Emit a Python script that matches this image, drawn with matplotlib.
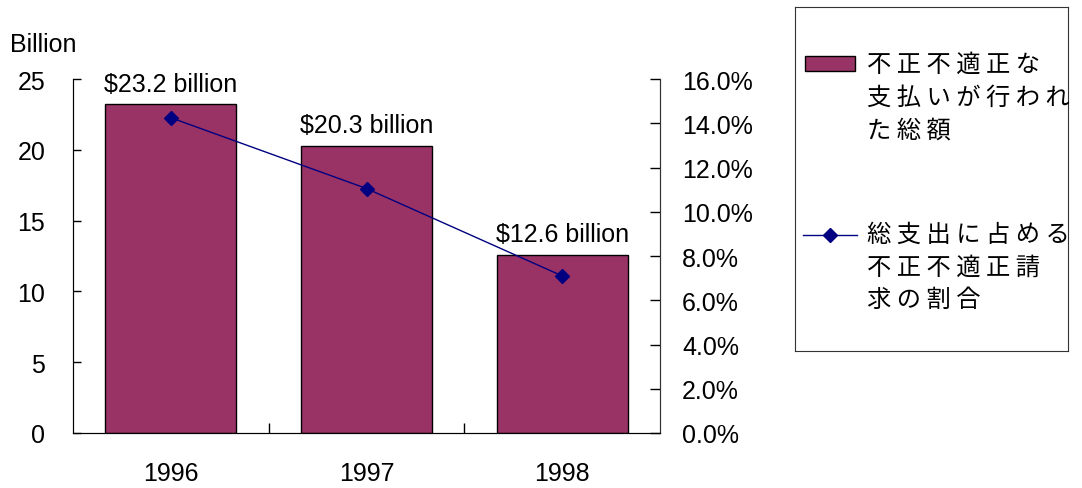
import matplotlib
matplotlib.use('Agg')
import matplotlib.pyplot as plt
from matplotlib.patches import Rectangle
from matplotlib.lines import Line2D
from matplotlib.ticker import FuncFormatter

years = ['1996', '1997', '1998']
amounts = [23.2, 20.3, 12.6]          # billion dollars
amount_labels = ['$23.2 billion', '$20.3 billion', '$12.6 billion']
share = [14.25, 11.05, 7.1]           # percent of total spending
bar_label = '不 正 不 適 正 な\n支 払 い が 行 わ れ\nた 総 額'
line_label = '総 支 出 に 占 め る\n不 正 不 適 正 請\n求 の 割 合'

plum = '#993366'
navy = '#000080'
latin = 'Liberation Sans'
jp = ['Noto Sans CJK JP', 'DejaVu Sans']
fs = 18

fig = plt.figure(figsize=(10.82, 4.89), dpi=100)
W, H = 1082, 489
ax = fig.add_axes([73 / W, 1 - 434 / H, (660 - 73) / W, (434 - 80) / H])

x = range(len(years))
ax.bar(x, amounts, width=0.67, color=plum, edgecolor='black', linewidth=1, zorder=2)
for xi, v, lab in zip(x, amounts, amount_labels):
    ax.annotate(lab, (xi, v), xytext=(0, 6), textcoords='offset points',
                ha='center', va='bottom', fontsize=fs, family=latin)

ax.set_xlim(-0.5, len(years) - 0.5)
ax.set_ylim(0, 25)
ax.set_yticks([0, 5, 10, 15, 20, 25])
ax.set_xticks([0.5, 1.5])
ax.set_xticklabels([])
ax.set_xticks(list(x), minor=True)
ax.set_xticklabels(years, minor=True)
ax.tick_params(axis='x', which='major', direction='in', length=7, width=1)
ax.tick_params(axis='x', which='minor', length=0, pad=20, labelsize=fs)
ax.tick_params(axis='y', direction='in', length=6, width=1, pad=20, labelsize=fs)
for t in ax.get_xticklabels(minor=True) + ax.get_yticklabels():
    t.set_family(latin)
ax.spines['top'].set_visible(False)
for s in ['left', 'bottom', 'right']:
    ax.spines[s].set_color('#333333')

ax2 = ax.twinx()
ax2.plot(list(x), share, color=navy, linewidth=1, marker='D', markersize=7,
         markerfacecolor=navy, markeredgecolor=navy, zorder=3)
ax2.set_ylim(0, 16)
ax2.set_yticks([0, 2, 4, 6, 8, 10, 12, 14, 16])
ax2.yaxis.set_major_formatter(FuncFormatter(lambda v, p: f'{v:.1f}%'))
ax2.tick_params(axis='y', direction='in', length=7, width=1, pad=16, labelsize=fs)
for t in ax2.get_yticklabels():
    t.set_family(latin)
ax2.spines['top'].set_visible(False)
ax2.spines['right'].set_color('#333333')

fig.text(10 / W, 1 - 45 / H, 'Billion', fontsize=fs, family=latin, va='center', ha='left')

# legend box drawn by hand
lg = fig.add_axes([795 / W, 1 - 352 / H, (1068 - 795) / W, (352 - 8) / H])
lg.set_xlim(795, 1068)
lg.set_ylim(352, 8)
lg.set_xticks([])
lg.set_yticks([])
lg.set_zorder(-1)
for s in lg.spines.values():
    s.set_color('#333333')
lg.add_patch(Rectangle((805, 57), 50, 15, facecolor=plum, edgecolor='black', linewidth=1))
lg.add_line(Line2D([803, 857], [236, 236], color=navy, linewidth=1))
lg.add_line(Line2D([830], [236], color=navy, marker='D', markersize=7))
lg.text(867, 52, bar_label, family=jp, fontsize=17.5, va='top', ha='left',
        linespacing=1.33, clip_on=False)
lg.text(867, 222, line_label, family=jp, fontsize=17.5, va='top', ha='left',
        linespacing=1.33, clip_on=False)

fig.savefig('out.png', dpi=100)
